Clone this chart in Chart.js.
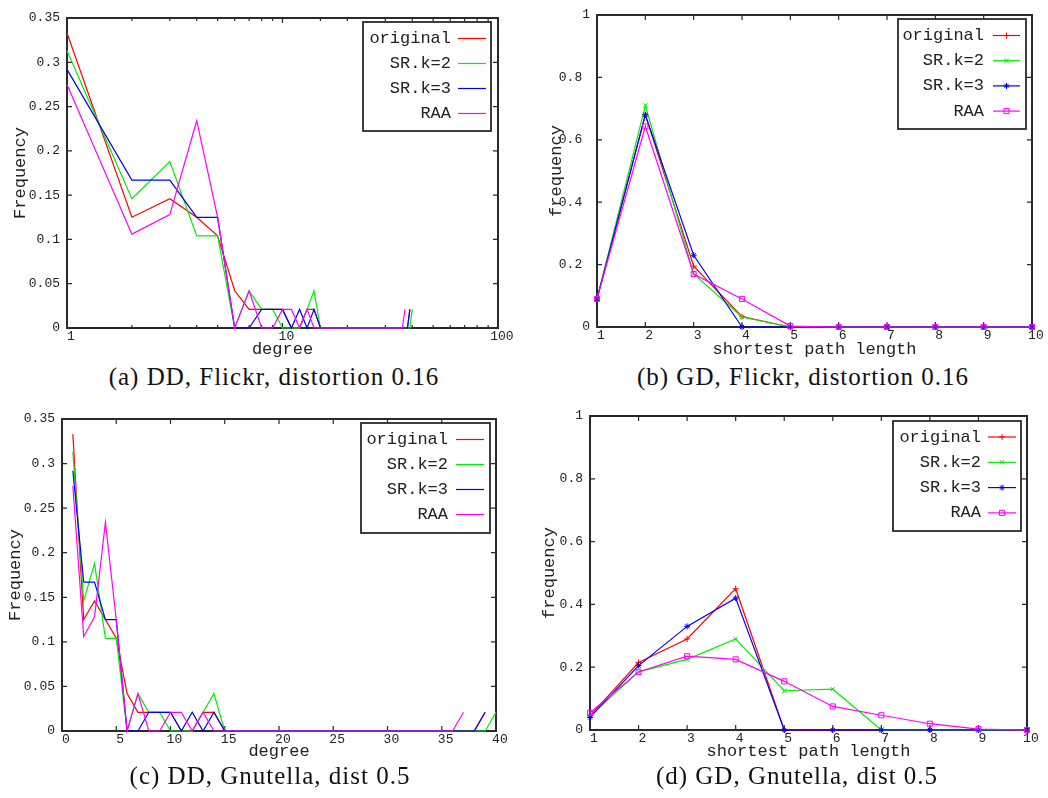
<!DOCTYPE html>
<html>
<head>
<meta charset="utf-8">
<script src="https://cdn.jsdelivr.net/npm/chart.js@4.4.1/dist/chart.umd.min.js"></script>
<style>
  body { margin: 0; background: #fff; }
  #page { position: relative; width: 1048px; height: 798px; overflow: hidden; }
  canvas { position: absolute; }
  .caption { position: absolute; width: 520px; height: 30px; line-height: 30px; text-align: center;
             font-family: "Liberation Serif", serif; font-size: 25px; letter-spacing: 1px; color: #111; }
</style>
</head>
<body>
<div id="page">
  <canvas id="ddFlickr" width="520" height="360" style="left:0;top:0"></canvas>
  <canvas id="gdFlickr" width="528" height="360" style="left:520px;top:0"></canvas>
  <canvas id="ddGnutella" width="520" height="362" style="left:0;top:400px"></canvas>
  <canvas id="gdGnutella" width="528" height="362" style="left:520px;top:400px"></canvas>
  <div class="caption" style="left:14px;top:362px">(a) DD, Flickr, distortion 0.16</div>
  <div class="caption" style="left:543px;top:362px">(b) GD, Flickr, distortion 0.16</div>
  <div class="caption" style="left:10px;top:761px">(c) DD, Gnutella, dist 0.5</div>
  <div class="caption" style="left:537px;top:761px">(d) GD, Gnutella, dist 0.5</div>
</div>
<script>
// series shared by all four panels
var seriesNames = ['original', 'SR.k=2', 'SR.k=3', 'RAA'];
var seriesColors = ['#ff0000', '#00ee00', '#0000ff', '#ff00ff'];
var markerStyles = ['cross', 'crossRot', 'star', 'rect'];

// degree distribution (same data for Flickr plots a and c)
var degrees = [1, 2, 3, 4, 5, 6, 7, 8, 9, 10, 11, 12, 13, 14, 15, 16, 17, 18, 19, 20,
               21, 22, 23, 24, 25, 26, 27, 28, 29, 30, 31, 32, 33, 34, 35, 36, 37, 38, 39, 40];
var ddOriginal = [0.333, 0.125, 0.146, 0.125, 0.104, 0.042, 0.021, 0.021, 0.021, 0.021,
                  0, 0, 0.021, 0.021, 0, 0, 0, 0, 0, 0,
                  0, 0, 0, 0, 0, 0, 0, 0, 0, 0,
                  0, 0, 0, 0, 0, 0, 0, 0, 0.021];
var ddSr2 = [0.313, 0.146, 0.188, 0.104, 0.104, 0, 0.042, 0.021, 0.021, 0,
             0, 0, 0.021, 0.042, 0, 0, 0, 0, 0, 0,
             0, 0, 0, 0, 0, 0, 0, 0, 0, 0,
             0, 0, 0, 0, 0, 0, 0, 0, 0, 0.021];
var ddSr3 = [0.292, 0.167, 0.167, 0.125, 0.125, 0, 0, 0.021, 0.021, 0.021,
             0, 0.021, 0, 0.021, 0, 0, 0, 0, 0, 0,
             0, 0, 0, 0, 0, 0, 0, 0, 0, 0,
             0, 0, 0, 0, 0, 0, 0, 0, 0.021];
var ddRaa = [0.275, 0.106, 0.128, 0.234, 0.125, 0, 0.042, 0, 0, 0.021,
             0.021, 0, 0.021, 0, 0, 0, 0, 0, 0, 0,
             0, 0, 0, 0, 0, 0, 0, 0, 0, 0,
             0, 0, 0, 0, 0, 0, 0.021];

// shortest path length distribution
var pathLengths = [1, 2, 3, 4, 5, 6, 7, 8, 9, 10];
var gdFlickrOriginal = [0.09, 0.68, 0.195, 0.033, 0, 0, 0, 0, 0, 0];
var gdFlickrSr2 = [0.09, 0.71, 0.17, 0.032, 0, 0, 0, 0, 0, 0];
var gdFlickrSr3 = [0.09, 0.68, 0.23, 0, 0, 0, 0, 0, 0, 0];
var gdFlickrRaa = [0.09, 0.643, 0.17, 0.09, 0.003, 0, 0, 0, 0, 0];

var gdGnutellaOriginal = [0.045, 0.215, 0.29, 0.45, 0, 0, 0, 0, 0, 0];
var gdGnutellaSr2 = [0.045, 0.185, 0.225, 0.29, 0.125, 0.13, 0, 0, 0, 0];
var gdGnutellaSr3 = [0.04, 0.205, 0.33, 0.42, 0, 0, 0, 0, 0, 0];
var gdGnutellaRaa = [0.055, 0.185, 0.235, 0.225, 0.155, 0.075, 0.047, 0.02, 0.003, 0];

Chart.defaults.font.family = "'Liberation Mono', monospace";
Chart.defaults.font.size = 13;
Chart.defaults.color = '#222';

function isPow10(v) {
  var l = Math.log10(v);
  return Math.abs(l - Math.round(l)) < 1e-9;
}

// gnuplot style frame: full border with inward ticks on all four sides
var frameTicks = {
  id: 'frameTicks',
  beforeDatasetsDraw: function(chart) {
    var ctx = chart.ctx, a = chart.chartArea;
    var x = chart.scales.x, y = chart.scales.y;
    ctx.save();
    ctx.strokeStyle = '#2a2a2a';
    ctx.lineWidth = 1.2;
    ctx.beginPath();
    x.ticks.forEach(function(t) {
      var px = x.getPixelForValue(t.value);
      var len = (x.type === 'logarithmic' && !isPow10(t.value)) ? 3 : 5;
      ctx.moveTo(px, a.bottom); ctx.lineTo(px, a.bottom - len);
      ctx.moveTo(px, a.top); ctx.lineTo(px, a.top + len);
    });
    y.ticks.forEach(function(t) {
      var py = y.getPixelForValue(t.value);
      ctx.moveTo(a.left, py); ctx.lineTo(a.left + 5, py);
      ctx.moveTo(a.right, py); ctx.lineTo(a.right - 5, py);
    });
    ctx.stroke();
    ctx.lineWidth = 2;
    ctx.strokeRect(a.left, a.top, a.right - a.left, a.bottom - a.top);
    ctx.restore();
  }
};

// boxed key: label right aligned, then a line sample with its marker
var boxLegend = {
  id: 'boxLegend',
  afterDatasetsDraw: function(chart, args, o) {
    var ctx = chart.ctx;
    ctx.save();
    ctx.fillStyle = '#fff';
    ctx.fillRect(o.left, o.top, o.width, o.height);
    ctx.strokeStyle = '#2a2a2a';
    ctx.lineWidth = 1.8;
    ctx.strokeRect(o.left, o.top, o.width, o.height);
    ctx.font = "17px 'Liberation Mono', monospace";
    ctx.textAlign = 'right';
    ctx.textBaseline = 'middle';
    chart.data.datasets.forEach(function(ds, i) {
      var yy = o.firstRow + i * o.rowGap;
      ctx.fillStyle = '#222';
      ctx.fillText(ds.label, o.textRight, yy);
      ctx.strokeStyle = ds.borderColor;
      ctx.lineWidth = ds.borderWidth;
      ctx.beginPath();
      ctx.moveTo(o.lineStart, yy);
      ctx.lineTo(o.lineEnd, yy);
      ctx.stroke();
      if (ds.pointRadius > 0) {
        ctx.fillStyle = 'rgba(0,0,0,0)';
        ctx.lineWidth = ds.pointBorderWidth;
        Chart.helpers.drawPoint(ctx, {
          pointStyle: ds.pointStyle, radius: ds.pointRadius,
          borderWidth: ds.pointBorderWidth, rotation: 0
        }, (o.lineStart + o.lineEnd) / 2, yy);
      }
    });
    ctx.restore();
  }
};

function pairs(xs, ys) {
  return ys.map(function(v, i) { return {x: xs[i], y: v}; });
}

function makeDatasets(xs, cols, withMarkers) {
  return cols.map(function(vals, i) {
    return {
      label: seriesNames[i],
      data: pairs(xs, vals),
      borderColor: seriesColors[i],
      backgroundColor: 'rgba(0,0,0,0)',
      borderWidth: 1.2,
      tension: 0,
      pointStyle: markerStyles[i],
      pointRadius: withMarkers ? (i === 3 ? 3.6 : 3) : 0,
      pointBorderWidth: 1,
      pointBorderColor: seriesColors[i],
      pointBackgroundColor: 'rgba(0,0,0,0)',
      order: cols.length - i,
      clip: false
    };
  });
}

function makeChart(id, c) {
  return new Chart(document.getElementById(id), {
    type: 'line',
    data: { datasets: c.datasets },
    options: {
      responsive: false,
      animation: false,
      layout: { padding: { top: c.padTop, right: c.padRight, bottom: 0, left: 0 } },
      plugins: {
        legend: { display: false },
        tooltip: { enabled: false },
        boxLegend: c.key
      },
      scales: {
        x: {
          type: c.xType,
          min: c.xMin,
          max: c.xMax,
          grid: { display: false, drawTicks: false },
          border: { display: false },
          ticks: { autoSkip: false, maxRotation: 0, padding: 1, stepSize: c.xStep, callback: c.xLabel },
          title: { display: true, text: c.xTitle, font: { size: 17 }, padding: 0 },
          afterFit: function(s) { s.height = c.xHeight; }
        },
        y: {
          min: 0,
          max: c.yMax,
          grid: { display: false, drawTicks: false },
          border: { display: false },
          ticks: { stepSize: c.yStep, padding: 7, callback: c.yLabel },
          title: { display: true, text: c.yTitle, font: { size: 17 }, padding: { top: c.yTitleGap, bottom: 0 } },
          afterFit: function(s) { s.width = c.yWidth; }
        }
      }
    },
    plugins: [frameTicks, boxLegend]
  });
}

// x labels sit a little right of their tick, as gnuplot draws them
function freqLabel(v) { return String(+v.toFixed(2)); }
function intLabel(v) { return ' ' + v; }
function plainLabel(v) { return String(v); }
function logLabel(v) { return isPow10(v) ? ' ' + v : ''; }

makeChart('ddFlickr', {
  datasets: makeDatasets(degrees, [ddOriginal, ddSr2, ddSr3, ddRaa], false),
  xType: 'logarithmic', xMin: 1, xMax: 100, xLabel: logLabel, xTitle: 'degree',
  yMax: 0.35, yStep: 0.05, yLabel: freqLabel, yTitle: 'Frequency',
  padTop: 18, padRight: 22, yWidth: 67, xHeight: 32, yTitleGap: 10,
  key: { left: 363, top: 22, width: 128, height: 109, firstRow: 38.5, rowGap: 25,
         textRight: 451, lineStart: 458, lineEnd: 486 }
});

makeChart('gdFlickr', {
  datasets: makeDatasets(pathLengths, [gdFlickrOriginal, gdFlickrSr2, gdFlickrSr3, gdFlickrRaa], true),
  xType: 'linear', xMin: 1, xMax: 10, xStep: 1, xLabel: intLabel, xTitle: 'shortest path length',
  yMax: 1, yStep: 0.2,
  yLabel: function(v) { return (v === 0 || v === 1) ? String(v) : v.toFixed(1) + ' '; },
  yTitle: 'frequency',
  padTop: 15, padRight: 16, yWidth: 77, xHeight: 33, yTitleGap: 26.5,
  key: { left: 378, top: 19, width: 128, height: 110, firstRow: 35.5, rowGap: 25.2,
         textRight: 464, lineStart: 473, lineEnd: 500 }
});

makeChart('ddGnutella', {
  datasets: makeDatasets(degrees, [ddOriginal, ddSr2, ddSr3, ddRaa], false),
  xType: 'linear', xMin: 0, xMax: 40, xStep: 5, xLabel: intLabel, xTitle: 'degree',
  yMax: 0.35, yStep: 0.05, yLabel: freqLabel, yTitle: 'Frequency',
  padTop: 19, padRight: 24, yWidth: 62, xHeight: 31, yTitleGap: 5,
  key: { left: 361, top: 23, width: 129, height: 110, firstRow: 39.5, rowGap: 25,
         textRight: 448, lineStart: 456, lineEnd: 484 }
});

makeChart('gdGnutella', {
  datasets: makeDatasets(pathLengths, [gdGnutellaOriginal, gdGnutellaSr2, gdGnutellaSr3, gdGnutellaRaa], true),
  xType: 'linear', xMin: 1, xMax: 10, xStep: 1, xLabel: intLabel, xTitle: 'shortest path length',
  yMax: 1, yStep: 0.2, yLabel: plainLabel, yTitle: 'frequency',
  padTop: 16, padRight: 21, yWidth: 70, xHeight: 32, yTitleGap: 19,
  key: { left: 373, top: 21, width: 128, height: 110, firstRow: 37, rowGap: 25.3,
         textRight: 461, lineStart: 468, lineEnd: 496 }
});
</script>
</body>
</html>
